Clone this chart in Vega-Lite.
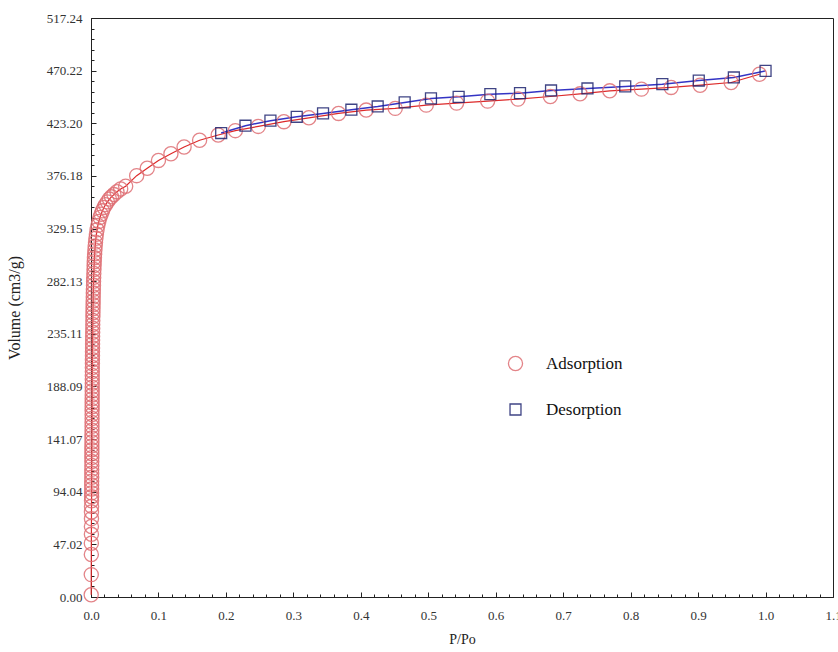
{
  "$schema": "https://vega.github.io/schema/vega-lite/v6.json",
  "width": 742,
  "height": 579,
  "autosize": "none",
  "padding": {"left": 91, "top": 18, "right": 5, "bottom": 55},
  "background": "white",
  "config": {
    "view": {"stroke": "#222", "strokeWidth": 1},
    "axis": {
      "labelFont": "Liberation Serif",
      "labelFontSize": 13,
      "labelColor": "#333",
      "titleFont": "Liberation Serif",
      "titleFontWeight": "normal",
      "titleColor": "#222",
      "domainColor": "#222",
      "tickColor": "#222",
      "grid": false,
      "labelFlush": false,
      "labelOverlap": false
    }
  },
  "datasets": {
    "iso": [
      {"series": "Adsorption", "p": 0.0003, "v": 2},
      {"series": "Adsorption", "p": 0.0004, "v": 20},
      {"series": "Adsorption", "p": 0.0005, "v": 38},
      {"series": "Adsorption", "p": 0.0005, "v": 48},
      {"series": "Adsorption", "p": 0.0006, "v": 56},
      {"series": "Adsorption", "p": 0.0006, "v": 63},
      {"series": "Adsorption", "p": 0.0007, "v": 70},
      {"series": "Adsorption", "p": 0.0007, "v": 76},
      {"series": "Adsorption", "p": 0.0008, "v": 81},
      {"series": "Adsorption", "p": 0.0008, "v": 86},
      {"series": "Adsorption", "p": 0.0009, "v": 89.5},
      {"series": "Adsorption", "p": 0.0009, "v": 93},
      {"series": "Adsorption", "p": 0.0010, "v": 96.5},
      {"series": "Adsorption", "p": 0.0010, "v": 100},
      {"series": "Adsorption", "p": 0.0010, "v": 103.5},
      {"series": "Adsorption", "p": 0.0011, "v": 107},
      {"series": "Adsorption", "p": 0.0011, "v": 110.5},
      {"series": "Adsorption", "p": 0.0011, "v": 114},
      {"series": "Adsorption", "p": 0.0012, "v": 117.5},
      {"series": "Adsorption", "p": 0.0012, "v": 121},
      {"series": "Adsorption", "p": 0.0012, "v": 124.5},
      {"series": "Adsorption", "p": 0.0013, "v": 128},
      {"series": "Adsorption", "p": 0.0013, "v": 131.5},
      {"series": "Adsorption", "p": 0.0013, "v": 135},
      {"series": "Adsorption", "p": 0.0014, "v": 138.5},
      {"series": "Adsorption", "p": 0.0014, "v": 142},
      {"series": "Adsorption", "p": 0.0014, "v": 145.5},
      {"series": "Adsorption", "p": 0.0015, "v": 149},
      {"series": "Adsorption", "p": 0.0015, "v": 152.5},
      {"series": "Adsorption", "p": 0.0015, "v": 156},
      {"series": "Adsorption", "p": 0.0016, "v": 159.5},
      {"series": "Adsorption", "p": 0.0016, "v": 163},
      {"series": "Adsorption", "p": 0.0016, "v": 166.5},
      {"series": "Adsorption", "p": 0.0017, "v": 170},
      {"series": "Adsorption", "p": 0.0017, "v": 173.5},
      {"series": "Adsorption", "p": 0.0017, "v": 177},
      {"series": "Adsorption", "p": 0.0018, "v": 180.5},
      {"series": "Adsorption", "p": 0.0018, "v": 184},
      {"series": "Adsorption", "p": 0.0018, "v": 187.5},
      {"series": "Adsorption", "p": 0.0019, "v": 191},
      {"series": "Adsorption", "p": 0.0019, "v": 194.5},
      {"series": "Adsorption", "p": 0.0019, "v": 198},
      {"series": "Adsorption", "p": 0.0020, "v": 201.5},
      {"series": "Adsorption", "p": 0.0020, "v": 205},
      {"series": "Adsorption", "p": 0.0021, "v": 208.5},
      {"series": "Adsorption", "p": 0.0021, "v": 212},
      {"series": "Adsorption", "p": 0.0022, "v": 215.5},
      {"series": "Adsorption", "p": 0.0022, "v": 219},
      {"series": "Adsorption", "p": 0.0023, "v": 222.5},
      {"series": "Adsorption", "p": 0.0023, "v": 226},
      {"series": "Adsorption", "p": 0.0024, "v": 229.5},
      {"series": "Adsorption", "p": 0.0024, "v": 233},
      {"series": "Adsorption", "p": 0.0025, "v": 236.5},
      {"series": "Adsorption", "p": 0.0026, "v": 240},
      {"series": "Adsorption", "p": 0.0026, "v": 243.5},
      {"series": "Adsorption", "p": 0.0027, "v": 247},
      {"series": "Adsorption", "p": 0.0028, "v": 250.5},
      {"series": "Adsorption", "p": 0.0029, "v": 254},
      {"series": "Adsorption", "p": 0.0030, "v": 257.5},
      {"series": "Adsorption", "p": 0.0031, "v": 261},
      {"series": "Adsorption", "p": 0.0032, "v": 264.5},
      {"series": "Adsorption", "p": 0.0033, "v": 268},
      {"series": "Adsorption", "p": 0.0034, "v": 271.5},
      {"series": "Adsorption", "p": 0.0035, "v": 275},
      {"series": "Adsorption", "p": 0.0037, "v": 278.5},
      {"series": "Adsorption", "p": 0.0038, "v": 282},
      {"series": "Adsorption", "p": 0.0040, "v": 285.5},
      {"series": "Adsorption", "p": 0.0042, "v": 289},
      {"series": "Adsorption", "p": 0.0044, "v": 292.5},
      {"series": "Adsorption", "p": 0.0046, "v": 296},
      {"series": "Adsorption", "p": 0.0048, "v": 299.5},
      {"series": "Adsorption", "p": 0.0051, "v": 303},
      {"series": "Adsorption", "p": 0.0054, "v": 306.5},
      {"series": "Adsorption", "p": 0.0058, "v": 310},
      {"series": "Adsorption", "p": 0.0062, "v": 313.5},
      {"series": "Adsorption", "p": 0.0067, "v": 317},
      {"series": "Adsorption", "p": 0.0073, "v": 320.5},
      {"series": "Adsorption", "p": 0.0080, "v": 324},
      {"series": "Adsorption", "p": 0.0090, "v": 328},
      {"series": "Adsorption", "p": 0.0102, "v": 332},
      {"series": "Adsorption", "p": 0.0116, "v": 335.5},
      {"series": "Adsorption", "p": 0.0132, "v": 339},
      {"series": "Adsorption", "p": 0.0150, "v": 342},
      {"series": "Adsorption", "p": 0.0170, "v": 345},
      {"series": "Adsorption", "p": 0.0192, "v": 348},
      {"series": "Adsorption", "p": 0.0216, "v": 350.5},
      {"series": "Adsorption", "p": 0.0243, "v": 353},
      {"series": "Adsorption", "p": 0.0272, "v": 355.5},
      {"series": "Adsorption", "p": 0.0304, "v": 357.5},
      {"series": "Adsorption", "p": 0.0340, "v": 359.5},
      {"series": "Adsorption", "p": 0.0385, "v": 362},
      {"series": "Adsorption", "p": 0.0440, "v": 364.5},
      {"series": "Adsorption", "p": 0.0514, "v": 367},
      {"series": "Adsorption", "p": 0.0677, "v": 376.4},
      {"series": "Adsorption", "p": 0.0834, "v": 383},
      {"series": "Adsorption", "p": 0.1000, "v": 390},
      {"series": "Adsorption", "p": 0.1185, "v": 396},
      {"series": "Adsorption", "p": 0.1380, "v": 402},
      {"series": "Adsorption", "p": 0.1610, "v": 408},
      {"series": "Adsorption", "p": 0.1886, "v": 412.7},
      {"series": "Adsorption", "p": 0.214, "v": 416.6},
      {"series": "Adsorption", "p": 0.248, "v": 420.4},
      {"series": "Adsorption", "p": 0.286, "v": 424.6},
      {"series": "Adsorption", "p": 0.323, "v": 428.1},
      {"series": "Adsorption", "p": 0.367, "v": 432.0},
      {"series": "Adsorption", "p": 0.408, "v": 435.0},
      {"series": "Adsorption", "p": 0.451, "v": 436.5},
      {"series": "Adsorption", "p": 0.497, "v": 439.4},
      {"series": "Adsorption", "p": 0.542, "v": 441.2},
      {"series": "Adsorption", "p": 0.588, "v": 443.0},
      {"series": "Adsorption", "p": 0.633, "v": 444.8},
      {"series": "Adsorption", "p": 0.681, "v": 447.1},
      {"series": "Adsorption", "p": 0.725, "v": 449.5},
      {"series": "Adsorption", "p": 0.769, "v": 452.2},
      {"series": "Adsorption", "p": 0.816, "v": 453.7},
      {"series": "Adsorption", "p": 0.860, "v": 455.2},
      {"series": "Adsorption", "p": 0.903, "v": 457.2},
      {"series": "Adsorption", "p": 0.949, "v": 459.6},
      {"series": "Adsorption", "p": 0.991, "v": 467.0},
      {"series": "Desorption", "p": 1.0, "v": 470.0},
      {"series": "Desorption", "p": 0.953, "v": 464.1},
      {"series": "Desorption", "p": 0.901, "v": 461.4},
      {"series": "Desorption", "p": 0.847, "v": 458.1},
      {"series": "Desorption", "p": 0.792, "v": 456.1},
      {"series": "Desorption", "p": 0.736, "v": 454.3},
      {"series": "Desorption", "p": 0.682, "v": 452.5},
      {"series": "Desorption", "p": 0.636, "v": 450.1},
      {"series": "Desorption", "p": 0.592, "v": 449.2},
      {"series": "Desorption", "p": 0.545, "v": 446.8},
      {"series": "Desorption", "p": 0.504, "v": 445.4},
      {"series": "Desorption", "p": 0.465, "v": 441.8},
      {"series": "Desorption", "p": 0.425, "v": 438.2},
      {"series": "Desorption", "p": 0.386, "v": 435.3},
      {"series": "Desorption", "p": 0.344, "v": 432.0},
      {"series": "Desorption", "p": 0.305, "v": 429.0},
      {"series": "Desorption", "p": 0.266, "v": 425.5},
      {"series": "Desorption", "p": 0.229, "v": 421.0},
      {"series": "Desorption", "p": 0.193, "v": 414.5}
    ]
  },
  "data": {"name": "iso"},
  "layer": [
    {
      "mark": {"type": "point", "opacity": 0},
      "encoding": {
        "x": {
          "field": "p", "type": "quantitative",
          "scale": {"domain": [0, 1.1], "nice": false, "zero": false},
          "axis": {
            "orient": "bottom", "title": null, "labels": false, "domain": false,
            "tickSize": -3,
            "values": [0.02,0.04,0.06,0.08,0.12,0.14,0.16,0.18,0.22,0.24,0.26,0.28,0.32,0.34,0.36,0.38,0.42,0.44,0.46,0.48,0.52,0.54,0.56,0.58,0.62,0.64,0.66,0.68,0.72,0.74,0.76,0.78,0.82,0.84,0.86,0.88,0.92,0.94,0.96,0.98,1.02,1.04,1.06,1.08]
          }
        },
        "y": {
          "field": "v", "type": "quantitative",
          "scale": {"domain": [0, 517.24], "nice": false, "zero": false},
          "axis": {
            "orient": "left", "title": null, "labels": false, "domain": false,
            "tickSize": -3,
            "values": [9.40,18.81,28.21,37.62,56.43,65.83,75.24,84.64,103.45,112.85,122.25,131.66,150.47,159.87,169.28,178.68,197.49,206.90,216.30,225.71,244.51,253.92,263.32,272.73,291.53,300.94,310.34,319.75,338.56,347.96,357.36,366.77,385.58,394.98,404.39,413.79,432.60,442.00,451.41,460.81,479.62,489.03,498.43,507.84]
          }
        }
      }
    },
    {
      "encoding": {
        "x": {
          "field": "p", "type": "quantitative",
          "scale": {"domain": [0, 1.1], "nice": false, "zero": false},
          "axis": {
            "orient": "bottom", "title": "P/Po", "titleFontSize": 14, "titlePadding": 10,
            "values": [0,0.1,0.2,0.3,0.4,0.5,0.6,0.7,0.8,0.9,1.0,1.1],
            "format": ".1f", "tickSize": -5, "labelPadding": 17
          }
        },
        "y": {
          "field": "v", "type": "quantitative",
          "scale": {"domain": [0, 517.24], "nice": false, "zero": false},
          "axis": {
            "orient": "left", "title": "Volume (cm3/g)", "titleFontSize": 16, "titlePadding": 24,
            "values": [0,47.02,94.04,141.07,188.09,235.11,282.13,329.15,376.18,423.20,470.22,517.24],
            "format": ".2f", "tickSize": -5, "labelPadding": 14
          }
        }
      },
      "layer": [
        {
          "transform": [{"filter": "datum.series === 'Adsorption'"}],
          "mark": {"type": "line", "color": "#dd2a2a", "strokeWidth": 1.2},
          "encoding": {"order": {"value": null}}
        },
        {
          "transform": [{"filter": "datum.series === 'Desorption'"}],
          "mark": {"type": "line", "color": "#3434c4", "strokeWidth": 1.5},
          "encoding": {"order": {"value": null}}
        },
        {
          "mark": {"type": "point", "filled": false, "strokeWidth": 1.3, "opacity": 0.85},
          "encoding": {
            "color": {
              "field": "series", "type": "nominal",
              "scale": {"domain": ["Adsorption", "Desorption"], "range": ["#df6f74", "#1e2470"]},
              "legend": {
                "orient": "none", "legendX": 416, "legendY": 337, "title": null,
                "labelFont": "Liberation Serif", "labelFontSize": 17, "labelColor": "#111",
                "symbolSize": 180, "symbolStrokeWidth": 1.3, "rowPadding": 26, "labelOffset": 22
              }
            },
            "shape": {
              "field": "series", "type": "nominal",
              "scale": {"domain": ["Adsorption", "Desorption"], "range": ["circle", "square"]}
            },
            "size": {
              "field": "series", "type": "nominal",
              "scale": {"domain": ["Adsorption", "Desorption"], "range": [200, 120]},
              "legend": null
            }
          }
        }
      ]
    }
  ],
  "resolve": {"axis": {"x": "independent", "y": "independent"}}
}
